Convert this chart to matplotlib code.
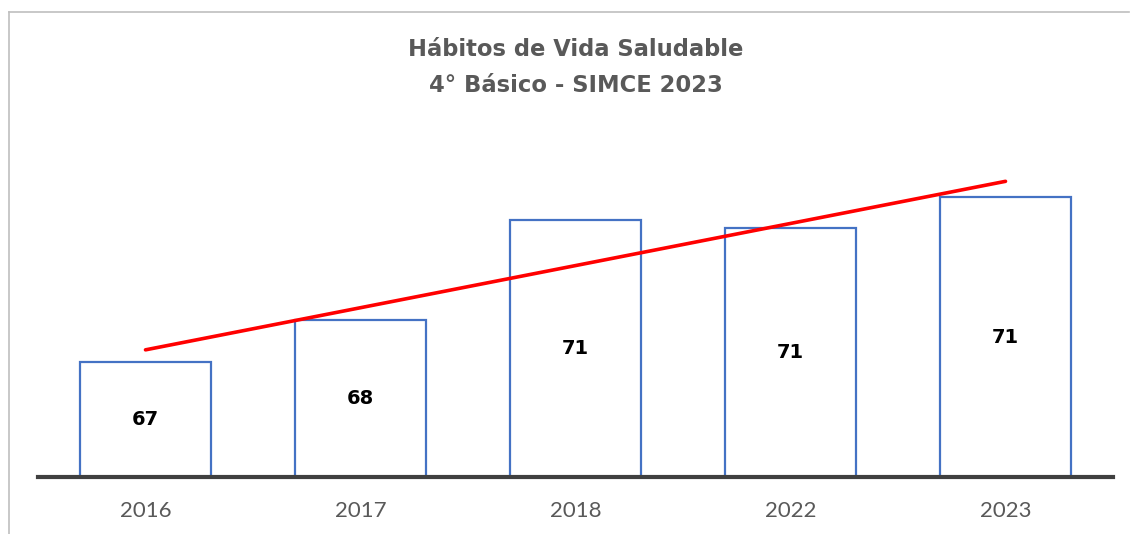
import matplotlib
matplotlib.use("Agg")
import matplotlib.pyplot as plt
from matplotlib.lines import Line2D
import numpy as np

years = ["2016", "2017", "2018", "2022", "2023"]
values = [67.0, 68.1, 70.7, 70.5, 71.3]
labels = ["67", "68", "71", "71", "71"]
title_lines = ["Hábitos de Vida Saludable", "4° Básico - SIMCE 2023"]

W, H = 1130, 534
fig = plt.figure(figsize=(W / 100, H / 100), dpi=100)
fig.patch.set_facecolor("white")

ymin, ymax = 64, 73
px_per_unit = 38.3
ax_bottom_px = 477
ax_h_px = (ymax - ymin) * px_per_unit
ax = fig.add_axes([38 / W, 1 - ax_bottom_px / H, 1075 / W, ax_h_px / H])
ax.set_xlim(-0.5, len(years) - 0.5)
ax.set_ylim(ymin, ymax)

x = np.arange(len(years))
ax.bar(x, [v - ymin for v in values], bottom=ymin, width=0.605,
       facecolor="white", edgecolor="#4472C4", linewidth=1.6, zorder=2)

for xi, v, lab in zip(x, values, labels):
    ax.text(xi, (ymin + v) / 2, lab, ha="center", va="center",
            fontsize=14, fontweight="bold", color="black",
            family=["DejaVu Sans"], zorder=4)

coef = np.polyfit(x, values, 1)
ax.plot(x, np.polyval(coef, x), color="#FF0000", linewidth=2.6,
        solid_capstyle="round", zorder=3)

for s in ["top", "right", "left"]:
    ax.spines[s].set_visible(False)
ax.spines["bottom"].set_color("#404040")
ax.spines["bottom"].set_linewidth(3)
ax.spines["bottom"].set_zorder(5)
ax.set_yticks([])
ax.set_xticks(x)
ax.set_xticklabels(years, fontsize=16, color="#595959", family=["Lato", "DejaVu Sans"])
ax.tick_params(axis="x", length=0, pad=17)
ax.patch.set_alpha(0)

cx = (38 + 1075 / 2) / W
fig.text(cx, 1 - 49 / H, title_lines[0], ha="center", va="center",
         fontsize=16.3, fontweight="bold", color="#595959", family=["DejaVu Sans"])
fig.text(cx, 1 - 85 / H, title_lines[1], ha="center", va="center",
         fontsize=16.3, fontweight="bold", color="#595959", family=["DejaVu Sans"])

# chart frame (top and left edges)
fig.add_artist(Line2D([8.5 / W, 8.5 / W], [0, 1 - 12 / H], transform=fig.transFigure,
                      color="#BFBFBF", linewidth=1.2))
fig.add_artist(Line2D([8.5 / W, 1129 / W], [1 - 12 / H, 1 - 12 / H], transform=fig.transFigure,
                      color="#BFBFBF", linewidth=1.2))

fig.savefig("out.png", dpi=100, facecolor="white")
